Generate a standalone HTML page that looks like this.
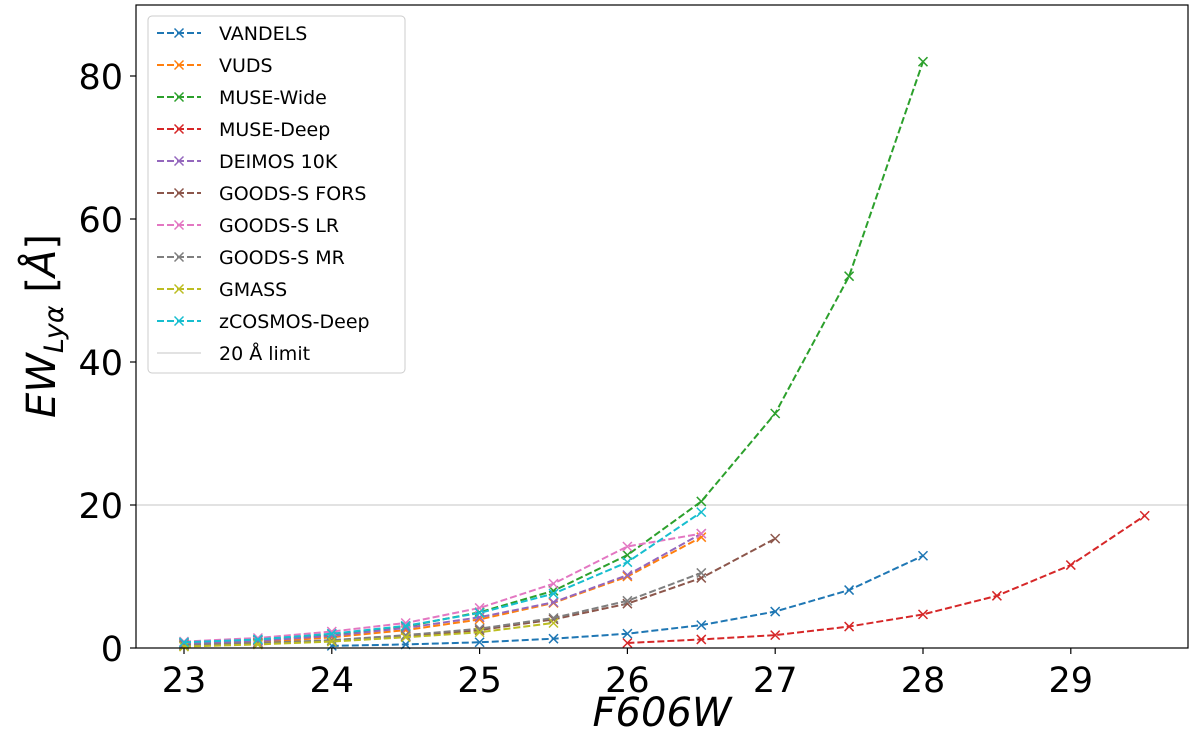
<!DOCTYPE html>
<html><head><meta charset="utf-8"><style>
html,body{margin:0;padding:0;background:#fff;}
svg{display:block;font-family:"DejaVu Sans","Liberation Sans",sans-serif;}
</style></head><body>
<svg id="chart" width="1200" height="735"></svg>
<script>
const xTicks=[23,24,25,26,27,28,29];
const yTicks=[0,20,40,60,80];
const names=["VANDELS","VUDS","MUSE-Wide","MUSE-Deep","DEIMOS 10K","GOODS-S FORS","GOODS-S LR","GOODS-S MR","GMASS","zCOSMOS-Deep"];
const colors=["#1f77b4","#ff7f0e","#2ca02c","#d62728","#9467bd","#8c564b","#e377c2","#7f7f7f","#bcbd22","#17becf"];
const magsVANDELS=[24,24.5,25,25.5,26,26.5,27,27.5,28];
const ewVANDELS=[0.3,0.5,0.8,1.3,2.0,3.2,5.1,8.1,12.9];
const magsVUDS=[23,23.5,24,24.5,25,25.5,26,26.5];
const ewVUDS=[0.5,0.8,1.5,2.5,4.0,6.3,10.0,15.5];
const magsMUSEWide=[23,23.5,24,24.5,25,25.5,26,26.5,27,27.5,28];
const ewMUSEWide=[0.7,1.1,1.8,3.0,5.0,8.0,13.0,20.5,32.8,52.0,82.0];
const magsMUSEDeep=[26,26.5,27,27.5,28,28.5,29,29.5];
const ewMUSEDeep=[0.7,1.2,1.8,3.0,4.7,7.3,11.6,18.5];
const magsDEIMOS=[23,23.5,24,24.5,25,25.5,26,26.5];
const ewDEIMOS=[0.6,1.0,1.7,2.8,4.3,6.4,10.2,16.0];
const magsFORS=[23,23.5,24,24.5,25,25.5,26,26.5,27];
const ewFORS=[0.3,0.6,1.0,1.6,2.5,4.0,6.2,9.8,15.3];
const magsLR=[23,23.5,24,24.5,25,25.5,26,26.5];
const ewLR=[0.9,1.4,2.3,3.5,5.6,9.0,14.2,16.0];
const magsMR=[23,23.5,24,24.5,25,25.5,26,26.5];
const ewMR=[0.4,0.7,1.1,1.8,2.7,4.2,6.6,10.5];
const magsGMASS=[23,23.5,24,24.5,25,25.5];
const ewGMASS=[0.2,0.5,0.9,1.5,2.2,3.5];
const magsZC=[23,23.5,24,24.5,25,25.5,26,26.5];
const ewZC=[0.8,1.2,2.0,3.1,4.9,7.6,12.0,19.0];
const seriesX=[magsVANDELS,magsVUDS,magsMUSEWide,magsMUSEDeep,magsDEIMOS,magsFORS,magsLR,magsMR,magsGMASS,magsZC];
const seriesY=[ewVANDELS,ewVUDS,ewMUSEWide,ewMUSEDeep,ewDEIMOS,ewFORS,ewLR,ewMR,ewGMASS,ewZC];
const limitEW=20;

const L=136,R=1188,T=5,B=648;
const X=v=>184+(v-23)*147.8;
const Y=v=>648-v*7.15;
const svg=document.getElementById('chart');
const NS="http://www.w3.org/2000/svg";
function mk(tag,attrs,parent){const e=document.createElementNS(NS,tag);for(const k in attrs)e.setAttribute(k,attrs[k]);(parent||svg).appendChild(e);return e;}

const lim=mk('line',{x1:L,x2:R,y1:Y(limitEW),y2:Y(limitEW),stroke:'#d9d9d9','stroke-width':1.5});



function marker(g,x,y,c){mk('path',{d:`M${x-4.5},${y-4.5}L${x+4.5},${y+4.5}M${x-4.5},${y+4.5}L${x+4.5},${y-4.5}`,stroke:c,'stroke-width':1.5,fill:'none'},g);}
for(let i=0;i<names.length;i++){
  const g=mk('g',{});
  
  
  const pts=seriesX[i].map((m,j)=>X(m)+','+Y(seriesY[i][j])).join(' ');
  mk('polyline',{points:pts,fill:'none',stroke:colors[i],'stroke-width':2,'stroke-dasharray':'7,3'},g);
  seriesX[i].forEach((m,j)=>marker(g,X(m),Y(seriesY[i][j]),colors[i]));
}
const fr=mk('rect',{x:L,y:T,width:R-L,height:B-T,fill:'none',stroke:'#000','stroke-width':1.2});


xTicks.forEach(t=>{
  mk('line',{x1:X(t),x2:X(t),y1:B,y2:B+6,stroke:'#000','stroke-width':1.2});
  const tx=mk('text',{x:X(t),y:B+44,'text-anchor':'middle','font-size':35});
  tx.textContent=t;
  
  
});
yTicks.forEach(t=>{
  mk('line',{x1:L-6,x2:L,y1:Y(t),y2:Y(t),stroke:'#000','stroke-width':1.2});
  const tx=mk('text',{x:L-13,y:Y(t)+13,'text-anchor':'end','font-size':35});
  tx.textContent=t;
  
  
});
const xt=mk('text',{x:662,y:726,'text-anchor':'middle','font-size':40,'font-style':'italic'});
xt.textContent='F606W';


const yt=mk('text',{transform:'translate(55,326) rotate(-90)','text-anchor':'middle','font-size':40,'font-style':'italic'});
yt.innerHTML='EW<tspan font-size="27" dy="8">Lyα</tspan><tspan dy="-8" font-style="normal"> [</tspan>Å<tspan font-style="normal">]</tspan>';



const lg=mk('g',{});


mk('rect',{x:148,y:16,width:257,height:357,rx:4,fill:'#fff',stroke:'#ccc','stroke-width':1},lg);
const labels=names.concat(['20 Å limit']);
labels.forEach((n,i)=>{
  const y=33+i*32;
  const e=mk('g',{},lg);
  
  
  if(i<names.length){
    mk('line',{x1:157,x2:201,y1:y,y2:y,stroke:colors[i],'stroke-width':2,'stroke-dasharray':'7,3'},e);
    marker(e,179,y,colors[i]);
  } else mk('line',{x1:157,x2:201,y1:y,y2:y,stroke:'#d9d9d9','stroke-width':1.5},e);
  const t=mk('text',{x:219,y:y+7,'font-size':19},e);
  t.textContent=n;
});
</script>
</body></html>
